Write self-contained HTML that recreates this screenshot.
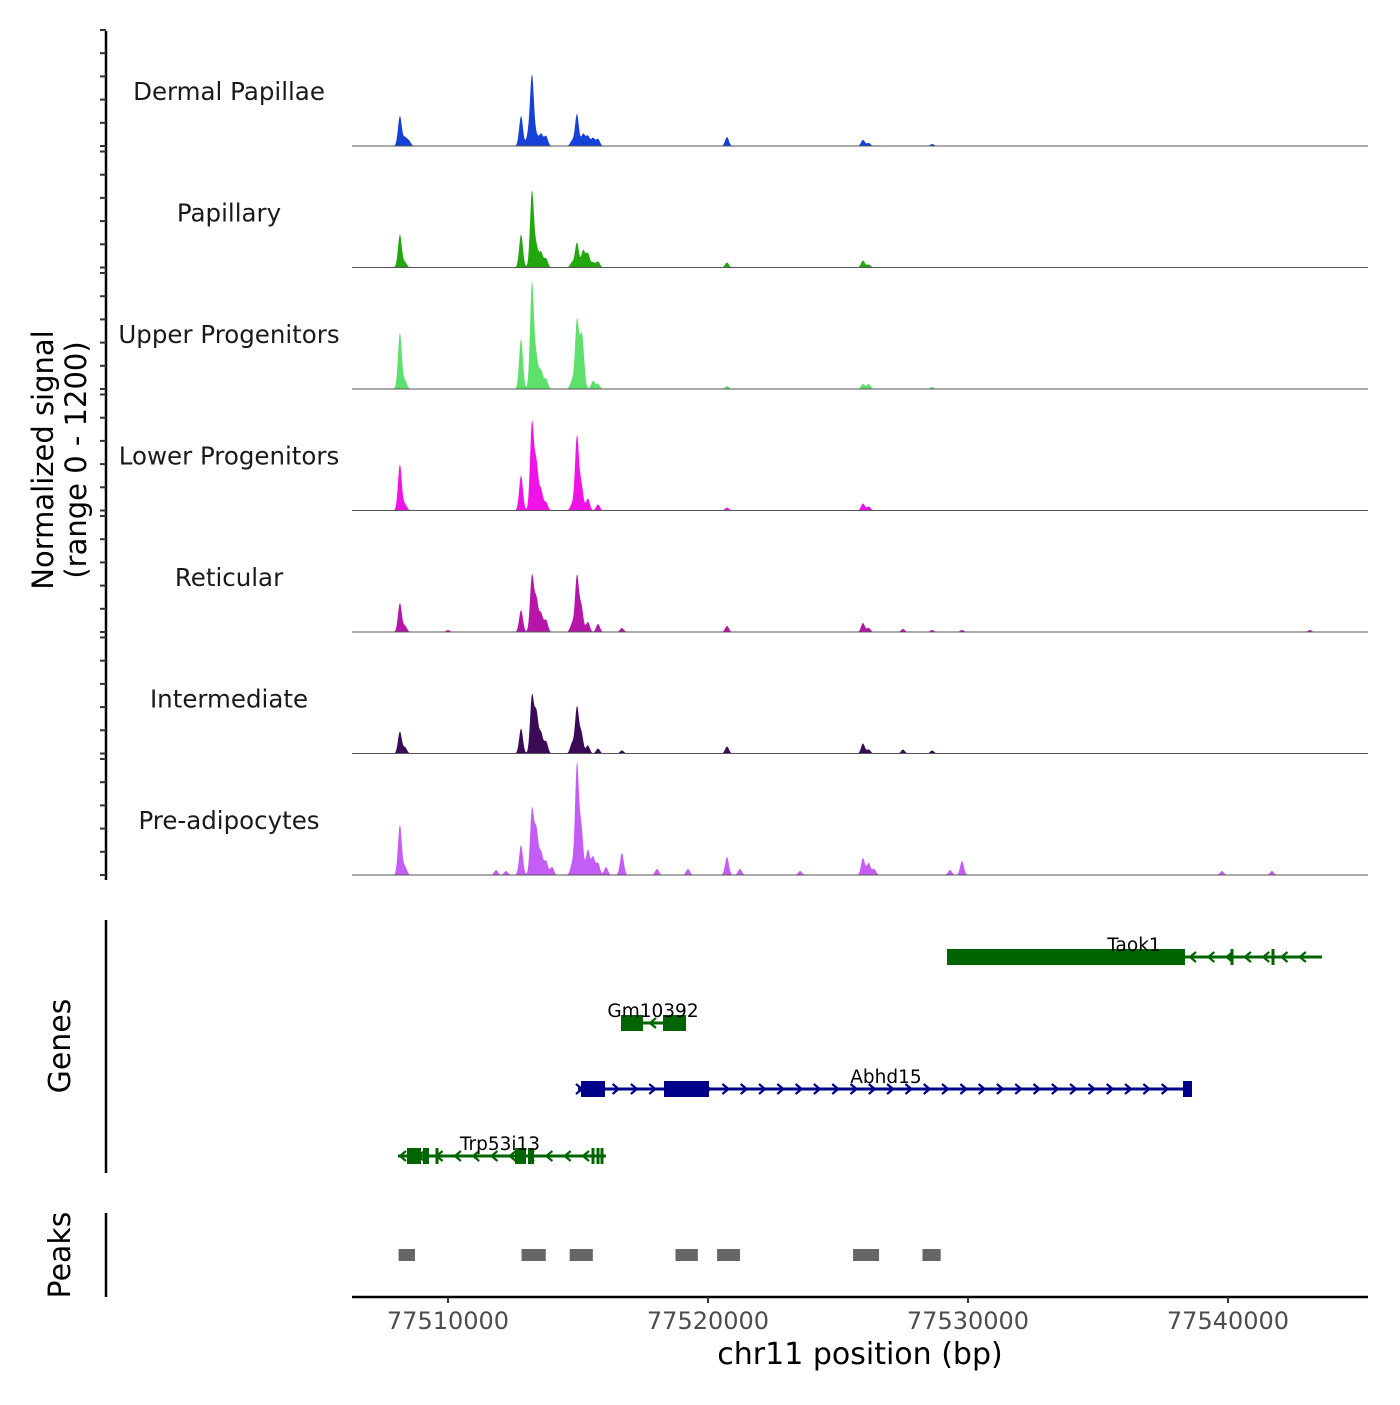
<!DOCTYPE html>
<html><head><meta charset="utf-8"><style>
body{margin:0;background:#fff}
svg text{font-family:"DejaVu Sans","Liberation Sans",sans-serif}
</style></head><body>
<svg id="chart" width="1400" height="1400" viewBox="0 0 1400 1400" xmlns="http://www.w3.org/2000/svg">
<rect width="1400" height="1400" fill="#fff"/>
<g id="tracks"></g>
<g id="yaxis"></g>
<text transform="translate(53,460) rotate(-90)" text-anchor="middle" font-size="29" fill="#000"><tspan x="0" dy="0">Normalized signal</tspan><tspan x="0" dy="33">(range 0 - 1200)</tspan></text>
<line x1="106" y1="920" x2="106" y2="1173" stroke="#000" stroke-width="2.5"/>
<text transform="translate(70,1046) rotate(-90)" text-anchor="middle" font-size="30">Genes</text>
<g id="genes"></g>
<line x1="106" y1="1213" x2="106" y2="1297" stroke="#000" stroke-width="2.5"/>
<text transform="translate(70,1255) rotate(-90)" text-anchor="middle" font-size="30">Peaks</text>
<g id="peaks"></g>
<g id="xaxis"></g>
<text x="860" y="1364" text-anchor="middle" font-size="30">chr11 position (bp)</text>
</svg>
<script>
const trackNames = ["Dermal Papillae","Papillary","Upper Progenitors","Lower Progenitors","Reticular","Intermediate","Pre-adipocytes"];
const trackColors = ["#1641d8","#22a80e","#5ee06c","#f012e8","#b616a8","#3b0a57","#c45cf6"];
const peakPos = [77508150,77508350,77508500,77510000,77511850,77512230,77512810,77513080,77513230,77513400,77513580,77513770,77514000,77514770,77514960,77515130,77515200,77515380,77515580,77515770,77516080,77516690,77518040,77519230,77520730,77521230,77523540,77525960,77526180,77526390,77527500,77528620,77529310,77529770,77539770,77541690,77543150];
const dermalPapillae = [258,69,43,0,0,0,258,86,602,86,103,86,0,43,275,0,103,86,69,60,0,0,0,0,77,0,0,52,26,0,0,17,0,0,0,0,0];
const papillary = [284,43,0,0,0,0,284,0,654,172,129,77,0,43,215,0,146,120,43,52,0,0,0,0,43,0,0,60,26,0,0,0,0,0,0,0,0];
const upperProgenitors = [482,69,0,0,0,0,430,0,912,258,155,86,0,69,585,344,172,0,69,43,0,0,0,0,26,0,0,43,43,0,0,17,0,0,0,0,0];
const lowerProgenitors = [396,52,0,0,0,0,301,0,748,396,172,69,0,52,636,215,0,103,0,52,0,0,0,0,26,0,0,60,34,0,0,0,0,0,0,0,0];
const reticular = [249,52,0,17,0,0,189,0,482,275,155,103,0,69,482,215,0,86,0,69,0,34,0,0,52,0,0,77,34,0,26,17,0,17,0,0,17];
const intermediate = [189,52,0,0,0,0,215,0,490,344,172,103,0,86,396,172,0,69,0,43,0,26,0,0,60,0,0,86,34,0,34,26,0,0,0,0,0];
const preAdipocytes = [430,69,0,0,43,34,258,0,559,378,189,120,69,86,946,387,0,215,155,103,69,189,52,52,155,52,34,146,103,52,0,0,43,120,34,34,0];
const trackValues = [dermalPapillae,papillary,upperProgenitors,lowerProgenitors,reticular,intermediate,preAdipocytes];
const yTicks = [0,200,400,600,800,1000];
const xTicks = [77510000,77520000,77530000,77540000];
const peakStarts = [77508100,77512830,77514680,77518750,77520350,77525580,77528250];
const peakEnds = [77508730,77513760,77515570,77519610,77521230,77526580,77528950];

const NS="http://www.w3.org/2000/svg";
const X0=352,X1=1368,BP0=77506308,BP1=77545385;
function xs(bp){return X0+(bp-BP0)/(BP1-BP0)*(X1-X0);}
function ys(v){return v*23.2/200;}
function mk(tag,attrs,parent){const e=document.createElementNS(NS,tag);for(const k in attrs)e.setAttribute(k,attrs[k]);parent.appendChild(e);return e;}
const baseTop=146,step=121.5;
const gT=document.getElementById('tracks');
trackNames.forEach((name,i)=>{
  const base=baseTop+step*i;
  const vals=trackValues[i];
  let d=`M${X0},${base}`;
  for(let x=X0;x<=X1;x+=0.5){
    let h=0;
    peakPos.forEach((p,j)=>{const dx=x-xs(p);if(Math.abs(dx)<12)h+=ys(vals[j])*Math.exp(-dx*dx/(2*1.9*1.9));});
    d+=`L${x},${(base-h).toFixed(2)}`;
  }
  d+=`L${X1},${base}Z`;
  const p=mk('path',{d:d,fill:trackColors[i]},gT);
  
  
  const bl=mk('line',{x1:X0,x2:X1,y1:base,y2:base,stroke:'#555','stroke-width':1},gT);
  
  
  const t=mk('text',{x:229,y:base-46,'text-anchor':'middle','font-size':24.5,fill:'#1a1a1a'},gT);
  t.textContent=name;
  
  
});
const gY=document.getElementById('yaxis');
const ax=mk('line',{x1:106,x2:106,y1:31,y2:880,stroke:'#000','stroke-width':2.5},gY);


for(let i=0;i<7;i++){const base=baseTop+step*i;
  yTicks.forEach(v=>{const y=base-ys(v)*1.0;const tk=mk('line',{x1:100,x2:106,y1:y,y2:y,stroke:'#333','stroke-width':2},gY);
    
    });
}
const gG=document.getElementById('genes');
function chevrons(x0,x1,y,dir,col,stepx){for(let x=x0;x<=x1;x+=stepx){const c=mk('polyline',{points:`${x+dir*-4},${y-5} ${x+dir*2},${y} ${x+dir*-4},${y+5}`,fill:'none',stroke:col,'stroke-width':2.2},gG);
  
  }}
function gene(name,x0,x1,y,exons,thin,col,dir,lx,cx0,cx1){
  const l=mk('line',{x1:x0,x2:x1,y1:y,y2:y,stroke:col,'stroke-width':3},gG);
  
  
  chevrons(cx0,cx1,y,dir,col,18.3);
  exons.forEach(e=>{const r=mk('rect',{x:e[0],y:y-8,width:e[1]-e[0],height:16,fill:col},gG);
    
    });
  thin.forEach(x=>{const r=mk('rect',{x:x-1.5,y:y-8,width:3,height:16,fill:col},gG);
    
    });
  const t=mk('text',{x:lx,y:y-6,'text-anchor':'middle','font-size':18.5,fill:'#000'},gG);
  t.textContent=name;
  
  
}
gene('Taok1',947,1322,957,[[947,1185]],[1232,1273],'#006400',-1,1134,1192,1320);
gene('Gm10392',621,686,1023,[[621,643],[663,686]],[],'#006400',-1,653,652,656);
gene('Abhd15',578,1192,1089,[[581,605],[664,709],[1183,1192]],[],'#00008b',1,886,580,1180);
gene('Trp53i13',398,606,1156,[[407,421],[423,429],[515,526],[528,534]],[437,593,598,602],'#006400',-1,500,402,600);
const gP=document.getElementById('peaks');
peakStarts.forEach((s,i)=>{const r=mk('rect',{x:xs(s),y:1249,width:xs(peakEnds[i])-xs(s),height:12,fill:'#666'},gP);
  
  });
const gX=document.getElementById('xaxis');
const xl=mk('line',{x1:X0,x2:X1,y1:1297,y2:1297,stroke:'#000','stroke-width':2.5},gX);


xTicks.forEach(v=>{const x=xs(v);
  const tk=mk('line',{x1:x,x2:x,y1:1297,y2:1303,stroke:'#333','stroke-width':2},gX);
  
  
  const t=mk('text',{x:x,y:1329,'text-anchor':'middle','font-size':24,fill:'#4d4d4d'},gX);
  t.textContent=v;
  
  });
</script>
</body></html>
